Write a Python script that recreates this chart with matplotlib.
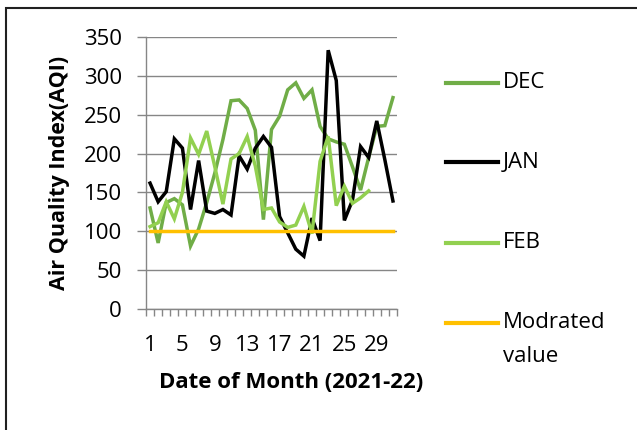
import numpy as np
import matplotlib
matplotlib.use('agg')
import matplotlib.pyplot as plt
from matplotlib.lines import Line2D
from matplotlib.patches import Rectangle

plt.rcParams['font.family'] = ['Open Sans', 'DejaVu Sans']

# AQI readings per day of month
dec = [130, 85, 137, 142, 134, 81, 103, 137, 175, 218, 268, 269, 258, 230, 115, 231,
       248, 282, 291, 271, 282, 235, 219, 215, 212, 183, 153, 195, 235, 236, 272]
jan = [162, 138, 151, 219, 207, 128, 191, 126, 123, 128, 121, 197, 180, 207, 222, 208,
       119, 98, 77, 68, 117, 88, 333, 294, 114, 140, 209, 195, 242, 192, 139]
feb = [106, 111, 138, 116, 150, 220, 199, 229, 183, 135, 193, 200, 222, 184, 128, 130,
       112, 105, 108, 132, 97, 190, 222, 133, 158, 136, 143, 152]
moderate = [101] * 31

labels = ['DEC', 'JAN', 'FEB', 'Modrated\nvalue']
colors = ['#70AD47', '#000000', '#92D050', '#FFC000']
series = [dec, jan, feb, moderate]

W, H = 637, 430
fig = plt.figure(figsize=(W / 100, H / 100), dpi=100)
ax = fig.add_axes([146 / W, 1 - 309 / H, 251 / W, 272 / H])

for vals, c in zip(series, colors):
    days = np.arange(1, len(vals) + 1)
    ax.plot(days, vals, color=c, lw=2.5, solid_joinstyle='miter', zorder=3)

ax.set_xlim(0.5, 31.5)
ax.set_ylim(0, 350)
ax.set_yticks(np.arange(0, 351, 50))
ax.set_xticks(np.arange(1, 32, 4))
ax.set_xticks(np.arange(0.5, 32, 1), minor=True)
ax.grid(axis='y', color='#868686', lw=1)
ax.set_axisbelow(True)
for s in ['top', 'right']:
    ax.spines[s].set_visible(False)
for s in ['left', 'bottom']:
    ax.spines[s].set_color('#868686')
    ax.spines[s].set_linewidth(1)
ax.tick_params(axis='y', length=6.5, width=1, color='#868686', pad=11, labelsize=16)
ax.tick_params(axis='x', which='major', length=0, pad=19, labelsize=16)
ax.tick_params(axis='x', which='minor', length=5, width=1, color='#868686')

ax.set_xlabel('Date of Month (2021-22)', fontsize=16, fontweight='bold')
ax.set_ylabel('Air Quality Index(AQI)', fontsize=15.5, fontweight='bold')
ax.xaxis.set_label_coords(0.58, -(372 - 309) / 272)
ax.yaxis.set_label_coords(-(146 - 70) / 251, 0.5)

# legend drawn by hand, Excel style
leg_y = [83, 162, 243, 323]
for lab, c, y in zip(labels, colors, leg_y):
    fig.add_artist(Line2D([446 / W, 498 / W], [1 - y / H, 1 - y / H], color=c, lw=3,
                          transform=fig.transFigure))
    for k, part in enumerate(lab.split('\n')):
        fig.text(503 / W, 1 - (y + 34 * k) / H, part, fontsize=16, va='center',
                 ha='left')

fig.add_artist(Rectangle((6 / W, -0.2), 2, 1.2 - 8 / H, transform=fig.transFigure,
                         fill=False, ec='#202020', lw=1.5))

plt.savefig('out.png', dpi=100)
